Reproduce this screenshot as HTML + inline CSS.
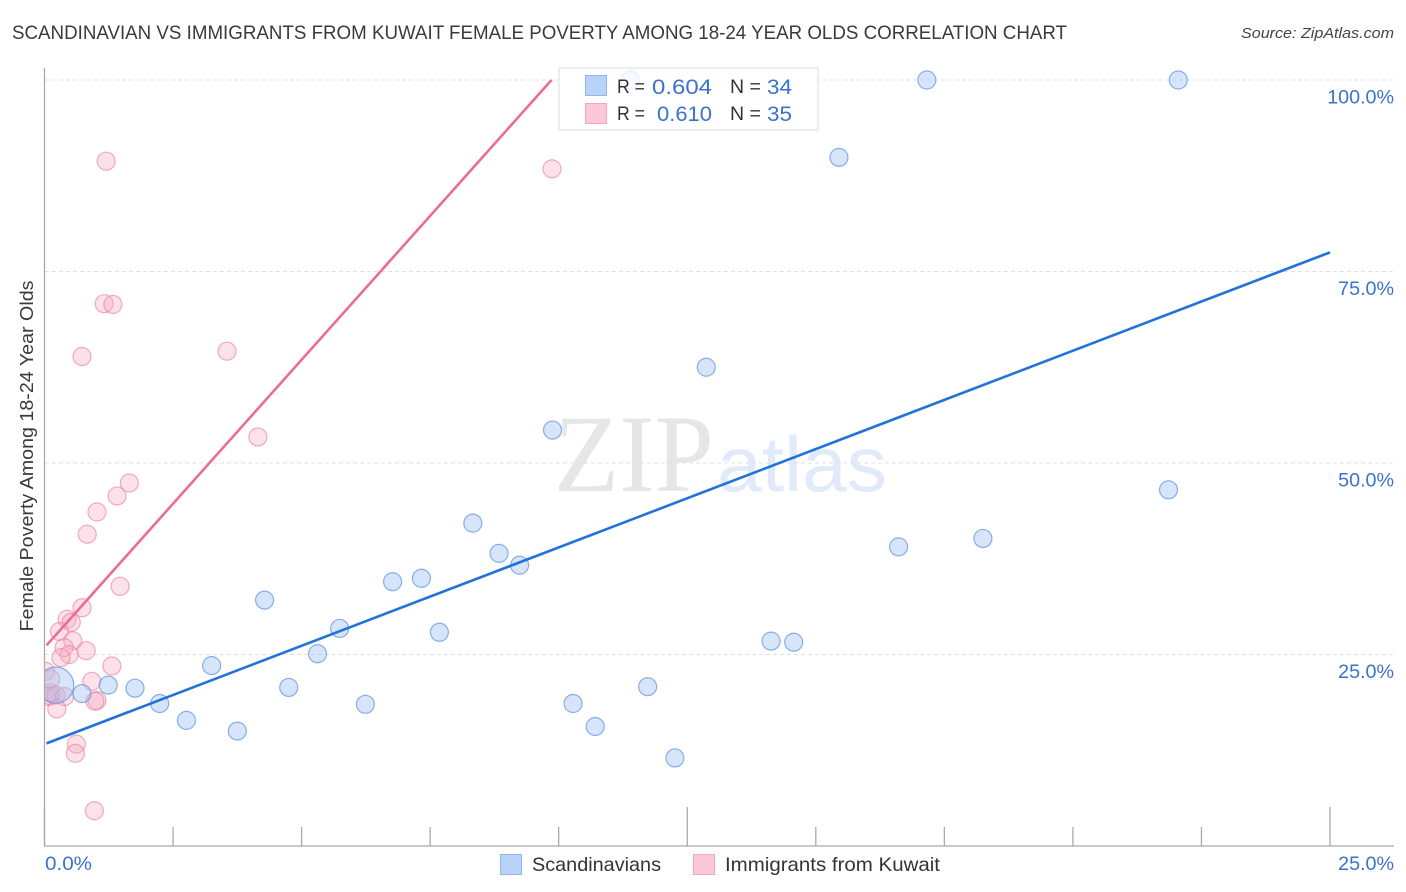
<!DOCTYPE html>
<html>
<head>
<meta charset="utf-8">
<title>Scandinavian vs Immigrants from Kuwait Correlation Chart</title>
<style>
html,body{margin:0;padding:0;background:#fff;width:1406px;height:892px;overflow:hidden}
svg{display:block;font-family:"Liberation Sans",sans-serif}
</style>
</head>
<body>
<svg id="chart" xmlns="http://www.w3.org/2000/svg" width="1406" height="892" viewBox="0 0 1406 892">
  <defs><clipPath id="plot-clip"><rect x="45" y="68" width="1349" height="778"/></clipPath></defs>
  <text x="12" y="39" font-size="19" fill="#3a3a3a" textLength="1055" lengthAdjust="spacingAndGlyphs">SCANDINAVIAN VS IMMIGRANTS FROM KUWAIT FEMALE POVERTY AMONG 18-24 YEAR OLDS CORRELATION CHART</text>
  <text x="1241" y="38" font-size="15" font-style="italic" fill="#444" textLength="153" lengthAdjust="spacingAndGlyphs">Source: ZipAtlas.com</text>
  <text transform="translate(33,456) rotate(-90)" font-size="18.5" fill="#3a3a3a" text-anchor="middle" textLength="351" lengthAdjust="spacingAndGlyphs">Female Poverty Among 18-24 Year Olds</text>
  <g>
    <text x="554" y="491" font-family="'Liberation Serif',serif" font-size="110" fill="#e6e6e6" textLength="160" lengthAdjust="spacingAndGlyphs">ZIP</text>
    <text x="717" y="491" font-size="78" fill="#e0eaf9" textLength="170" lengthAdjust="spacingAndGlyphs">atlas</text>
  </g>
  <g id="grid"></g>
  <g id="axes"></g>
  <g id="series" clip-path="url(#plot-clip)"></g>
  <g id="trends"></g>
  <g id="labels"></g>

  <g>
    <rect x="559" y="68" width="259" height="62" fill="#fff" fill-opacity="0.8" stroke="#ddd" stroke-width="1"/>
    <rect x="585.5" y="75.5" width="21" height="20" fill="#b9d2f7" stroke="#8fb6ee"/>
    <rect x="585.5" y="103.5" width="21" height="20" fill="#fcc8d8" stroke="#f5a5bf"/>
    <g font-size="19.5" fill="#333">
      <text x="617" y="93" textLength="28" lengthAdjust="spacingAndGlyphs">R =</text>
      <text x="730" y="93">N =</text>
      <text x="617" y="120" textLength="28" lengthAdjust="spacingAndGlyphs">R =</text>
      <text x="730" y="120">N =</text>
    </g>
    <g font-size="21.5" fill="#3b72cc">
      <text x="652" y="94" textLength="60" lengthAdjust="spacingAndGlyphs">0.604</text>
      <text x="767" y="94" textLength="25" lengthAdjust="spacingAndGlyphs">34</text>
      <text x="657" y="121" textLength="55" lengthAdjust="spacingAndGlyphs">0.610</text>
      <text x="767" y="121" textLength="25" lengthAdjust="spacingAndGlyphs">35</text>
    </g>
  </g>

  <g>
    <rect x="500.5" y="854.5" width="21" height="20" fill="#b9d2f7" stroke="#8fb6ee"/>
    <text x="532" y="871" font-size="19.5" fill="#333" textLength="129" lengthAdjust="spacingAndGlyphs">Scandinavians</text>
    <rect x="693.5" y="854.5" width="21" height="20" fill="#fcc8d8" stroke="#f5a5bf"/>
    <text x="725" y="871" font-size="19.5" fill="#333" textLength="215" lengthAdjust="spacingAndGlyphs">Immigrants from Kuwait</text>
  </g>
</svg>
<script>
// x values: percent Immigrants from Kuwait; y values: percent female poverty
const scandinaviansX = [11.39,17.16,22.05,15.45,12.87,9.88,21.86,8.33,8.84,9.24,16.61,18.25,7.33,6.77,4.28,5.74,7.68,14.13,14.57,5.31,3.25,1.24,1.76,4.75,11.73,0.73,2.24,6.24,10.28,2.76,3.75,10.71,12.26,0.22];
const scandinaviansY = [100,100,100,89.9,62.5,54.3,46.5,42.15,38.2,36.65,39.05,40.15,34.95,34.5,32.1,28.4,27.9,26.75,26.6,25.1,23.55,21.0,20.6,20.7,20.8,19.9,18.6,18.5,18.6,16.4,15.0,15.6,11.5,21.0];
const scandinaviansSize = [1,1,1,1,1,1,1,1,1,1,1,1,1,1,1,1,1,1,1,1,1,1,1,1,1,1,1,1,1,1,1,1,1,2];
const kuwaitX = [1.20,9.87,1.16,1.33,0.73,3.55,4.15,1.65,1.41,1.02,0.83,1.47,0.73,0.44,0.52,0.29,0.55,0.38,0.81,0.48,0.32,1.31,0.92,0.02,0.12,0.12,0.05,0.12,0.22,0.39,0.24,1.02,0.98,0.62,0.60,0.97];
const kuwaitY = [89.4,88.4,70.8,70.7,63.9,64.6,53.4,47.4,45.7,43.6,40.7,33.9,31.1,29.6,29.2,28.0,26.8,25.9,25.5,25.0,24.6,23.5,21.5,22.8,21.8,20.0,19.5,19.6,19.7,19.5,17.9,19.0,18.9,13.3,12.1,4.6];
const trendX = [0.04, 25];
const blueTrendY = [13.4, 77.5];
const pinkTrendX = [0.04, 9.86];
const pinkTrendY = [26.2, 100];
const xTickValues = [0,2.5,5,7.5,10,12.5,15,17.5,20,22.5,25];
const xTickMajor = [0,12.5,25];
const xTickLabels = ["0.0%","25.0%"];
const yTickValues = [25,50,75,100];
const yTickLabels = ["25.0%","50.0%","75.0%","100.0%"];

const X0 = 44.5, X1 = 1330, Y0 = 846, Y100 = 80;
const xScale = v => X0 + (v / 25) * (X1 - X0);
const yScale = v => Y0 - (v / 100) * (Y0 - Y100);
const NS = 'http://www.w3.org/2000/svg';
function mk(parent, tag, attrs, text) {
  const el = document.createElementNS(NS, tag);
  for (const k in attrs) el.setAttribute(k, attrs[k]);
  if (text !== undefined) el.textContent = text;
  parent.appendChild(el);
  return el;
}
const grid = document.getElementById('grid');
const axes = document.getElementById('axes');
const series = document.getElementById('series');
const trends = document.getElementById('trends');
const labels = document.getElementById('labels');

yTickValues.forEach((v, i) => {
  const line = mk(grid, 'line', {x1: 45, x2: 1394, y1: yScale(v), y2: yScale(v), stroke: '#e0e0e0', 'stroke-width': 1, 'stroke-dasharray': '4 3'});
  
  
  const t = mk(labels, 'text', {x: 1394, y: yScale(v) + 23.6, 'font-size': 19.7, fill: '#3b72cc', 'text-anchor': 'end'}, yTickLabels[i]);
  
  
});

const yAxisLine = mk(axes, 'line', {x1: 44.5, x2: 44.5, y1: 68, y2: 846, stroke: '#aaa', 'stroke-width': 1.3});


const xAxisLine = mk(axes, 'line', {x1: 44, x2: 1394, y1: 846, y2: 846, stroke: '#aaa', 'stroke-width': 1.3});


xTickValues.forEach(v => {
  const top = xTickMajor.includes(v) ? 807 : 827;
  const tick = mk(axes, 'line', {x1: xScale(v), x2: xScale(v), y1: top, y2: 846, stroke: '#aaa', 'stroke-width': 1.3});
  
  
});
const xLabelStart = mk(labels, 'text', {x: 45, y: 870, 'font-size': 19.7, fill: '#3b72cc', textLength: 47, lengthAdjust: 'spacingAndGlyphs'}, xTickLabels[0]);


const xLabelEnd = mk(labels, 'text', {x: 1394, y: 870, 'font-size': 19.7, fill: '#3b72cc', 'text-anchor': 'end'}, xTickLabels[1]);



kuwaitX.forEach((v, i) => {
  const c = mk(series, 'circle', {cx: xScale(v), cy: yScale(kuwaitY[i]), r: 9, fill: '#f7a8c0', 'fill-opacity': 0.35, stroke: '#e8789c', 'stroke-opacity': 0.6, 'stroke-width': 1.2});
  
  
});
scandinaviansX.forEach((v, i) => {
  const c = mk(series, 'circle', {cx: xScale(v), cy: yScale(scandinaviansY[i]), r: 9 * scandinaviansSize[i], fill: '#a5c6f2', 'fill-opacity': 0.45, stroke: '#5c90df', 'stroke-opacity': 0.7, 'stroke-width': 1.2});
  
  
});

const blueTrend = mk(trends, 'line', {x1: xScale(trendX[0]), y1: yScale(blueTrendY[0]), x2: xScale(trendX[1]), y2: yScale(blueTrendY[1]), stroke: '#2272dc', 'stroke-width': 2.6});


const pinkTrend = mk(trends, 'line', {x1: xScale(pinkTrendX[0]), y1: yScale(pinkTrendY[0]), x2: xScale(pinkTrendX[1]), y2: yScale(pinkTrendY[1]), stroke: '#eb6c96', 'stroke-width': 2.6});


</script>
</body>
</html>
